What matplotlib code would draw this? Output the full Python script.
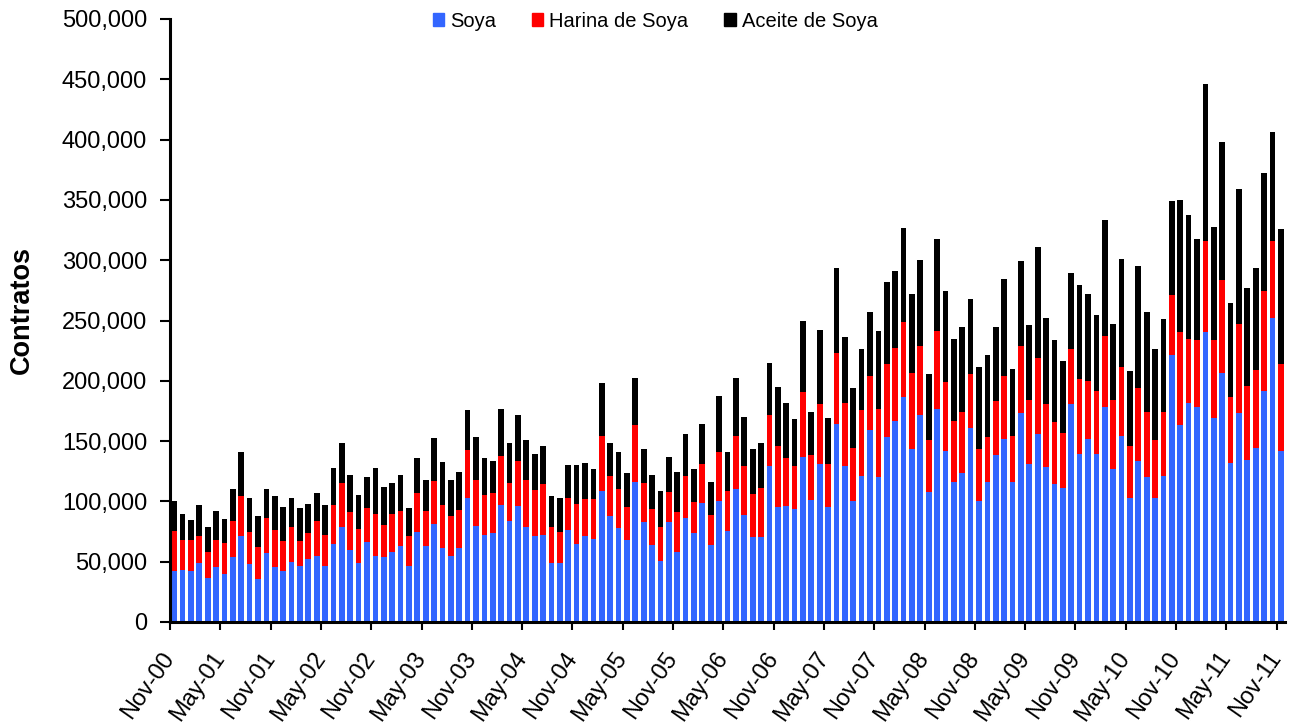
import numpy as np
import matplotlib
matplotlib.use('Agg')
import matplotlib.pyplot as plt
import matplotlib.transforms as mtransforms
from matplotlib.patches import Patch
from matplotlib.ticker import FuncFormatter

plt.rcParams['font.family'] = ['Liberation Sans', 'DejaVu Sans']

# contratos mensuales (miles), Nov-00 .. Nov-11
soya = [42.7, 43.5, 42.7, 48.8, 36.4, 45.2, 40.2, 53.7, 71.1, 47.7,
        35.3, 57.6, 45.2, 42.7, 50.1, 46.3, 52.6, 55.1, 46.3, 65.0,
        78.5, 60.1, 48.8, 66.1, 55.1, 53.7, 58.4, 63.4, 46.3, 74.9,
        63.4, 81.0, 61.2, 55.1, 61.2, 103.0, 79.6, 72.5, 73.6, 97.0,
        83.5, 95.9, 78.5, 71.1, 72.5, 48.8, 48.8, 76.0, 65.0, 71.3,
        68.8, 108.6, 87.9, 77.9, 67.7, 116.1, 82.6, 64.1, 50.9, 82.6,
        58.3, 86.5, 73.8, 98.7, 63.8, 100.1, 75.5, 110.0, 88.7, 70.5,
        70.5, 129.6, 95.1, 96.5, 93.7, 137.1, 101.2, 131.0, 95.1, 164.5,
        129.6, 100.1, 121.1, 159.5, 120.0, 153.4, 166.9, 186.6, 143.5, 171.6,
        107.5, 176.6, 142.1, 116.1, 123.5, 160.6, 100.1, 116.1, 138.5, 152.0,
        116.1, 173.4, 131.2, 155.9, 128.8, 114.6, 111.0, 180.4, 139.6, 151.7,
        139.6, 177.9, 127.0, 154.1, 102.5, 133.3, 120.0, 102.5, 120.9, 221.7,
        163.2, 181.9, 177.9, 240.1, 169.2, 206.6, 132.1, 173.4, 134.5, 144.5,
        191.5, 252.4, 142.1]
harina = [33.1, 24.8, 25.6, 22.3, 22.0, 23.1, 25.6, 29.8, 33.3, 27.2,
          27.2, 28.4, 30.8, 24.8, 28.4, 21.2, 21.0, 28.4, 26.2, 32.0,
          36.9, 30.8, 28.3, 28.4, 34.4, 27.0, 31.1, 28.6, 24.8, 31.7,
          28.6, 35.8, 35.8, 33.1, 31.9, 39.4, 38.3, 33.0, 33.0, 40.5,
          31.9, 38.0, 39.4, 38.3, 41.6, 29.7, 26.1, 27.0, 33.1, 30.8,
          33.5, 45.6, 33.4, 32.1, 27.4, 47.0, 32.4, 29.6, 27.9, 24.9,
          32.9, 34.8, 26.0, 32.3, 24.9, 40.9, 33.1, 44.2, 40.9, 35.6,
          40.6, 42.0, 50.8, 39.5, 35.9, 53.3, 37.3, 49.5, 35.9, 58.3,
          52.0, 44.5, 54.4, 44.5, 56.6, 60.5, 60.6, 62.2, 63.0, 57.3,
          43.4, 64.4, 56.9, 50.8, 50.6, 44.8, 43.4, 37.3, 44.5, 52.0,
          38.0, 55.2, 52.8, 63.1, 51.6, 51.3, 45.8, 46.1, 61.9, 48.3,
          51.9, 59.5, 57.0, 57.3, 43.5, 60.6, 54.0, 48.3, 53.1, 49.4,
          76.9, 53.0, 55.8, 75.7, 64.5, 76.9, 54.6, 73.9, 60.9, 64.5,
          83.3, 63.4, 71.7]
aceite = [24.8, 21.2, 16.3, 25.9, 20.1, 23.7, 19.9, 27.0, 36.9, 28.1,
          25.7, 24.5, 28.4, 28.1, 24.5, 27.0, 24.5, 23.1, 24.5, 30.6,
          33.4, 30.6, 28.4, 25.9, 38.1, 30.9, 25.9, 29.5, 23.4, 29.8,
          25.9, 35.6, 35.5, 29.7, 30.9, 33.4, 35.8, 30.9, 27.3, 39.4,
          33.4, 38.0, 33.3, 29.5, 32.2, 25.9, 28.1, 27.0, 31.9, 29.6,
          24.8, 43.7, 26.8, 30.7, 28.2, 39.5, 28.2, 28.5, 29.5, 29.3,
          33.5, 34.3, 27.3, 33.2, 27.1, 46.7, 32.1, 48.4, 40.7, 37.1,
          37.0, 43.4, 49.2, 45.6, 38.5, 59.5, 35.6, 61.9, 38.2, 70.5,
          54.4, 49.4, 50.6, 53.1, 64.4, 68.0, 63.3, 77.6, 65.5, 71.6,
          54.5, 76.9, 75.5, 68.0, 70.8, 62.7, 67.9, 68.0, 61.9, 80.4,
          55.8, 70.9, 62.1, 91.6, 72.0, 67.8, 59.4, 63.0, 78.1, 72.0,
          63.3, 95.6, 63.3, 89.3, 61.8, 101.7, 83.3, 75.7, 76.9, 77.9,
          110.1, 102.9, 84.2, 130.0, 94.1, 114.9, 78.1, 111.9, 81.5, 84.2,
          97.7, 90.2, 111.9]
tick_labels = ['Nov-00', 'May-01', 'Nov-01', 'May-02', 'Nov-02', 'May-03',
               'Nov-03', 'May-04', 'Nov-04', 'May-05', 'Nov-05', 'May-06',
               'Nov-06', 'May-07', 'Nov-07', 'May-08', 'Nov-08', 'May-09',
               'Nov-09', 'May-10', 'Nov-10', 'May-11', 'Nov-11']

soya = np.array(soya) * 1000
harina = np.array(harina) * 1000
aceite = np.array(aceite) * 1000
x = np.arange(len(soya))

fig = plt.figure(figsize=(12.91, 7.23), dpi=100)
ax = fig.add_axes([170/1291, 1 - 622/723, (1285 - 170)/1291, (622 - 19)/723])

w = 0.68
ax.bar(x, soya, w, color='#3366ff', zorder=2)
ax.bar(x, harina, w, bottom=soya, color='#ff0000', zorder=2)
ax.bar(x, aceite, w, bottom=soya + harina, color='#000000', zorder=2)

ax.set_xlim(-0.5, len(x) - 0.5)
ax.set_ylim(0, 500000)
ax.set_yticks(np.arange(0, 500001, 50000))
ax.yaxis.set_major_formatter(FuncFormatter(lambda v, p: f'{v:,.0f}'))
ax.set_xticks(np.arange(0, len(x), 6) - 0.5)
ax.set_xticklabels(tick_labels, rotation=55, ha='right', va='center',
                   rotation_mode='anchor')
shift = mtransforms.ScaledTranslation(9/100, 0, fig.dpi_scale_trans)
for lab in ax.get_xticklabels():
    lab.set_transform(lab.get_transform() + shift)

for s in ['top', 'right']:
    ax.spines[s].set_visible(False)
for s in ['left', 'bottom']:
    ax.spines[s].set_linewidth(2.2)
    ax.spines[s].set_zorder(3)

ax.tick_params(axis='y', direction='out', length=7, width=1.5, labelsize=17, pad=9.5)
ax.tick_params(axis='x', direction='out', length=6, width=1.5, labelsize=17, pad=17)

fig.text(22/1291, 1 - 310/723, 'Contratos', rotation=90, ha='center', va='center',
         fontweight='bold', fontsize=19.5)

handles = [Patch(color='#3366ff', label='Soya'),
           Patch(color='#ff0000', label='Harina de Soya'),
           Patch(color='#000000', label='Aceite de Soya')]
fig.legend(handles=handles, loc='upper center', bbox_to_anchor=(655/1291, 1.009),
           ncol=3, frameon=False, fontsize=14.5, handlelength=0.55, handleheight=0.55,
           handletextpad=0.3, columnspacing=1.8)

fig.savefig('out.png', dpi=100)
